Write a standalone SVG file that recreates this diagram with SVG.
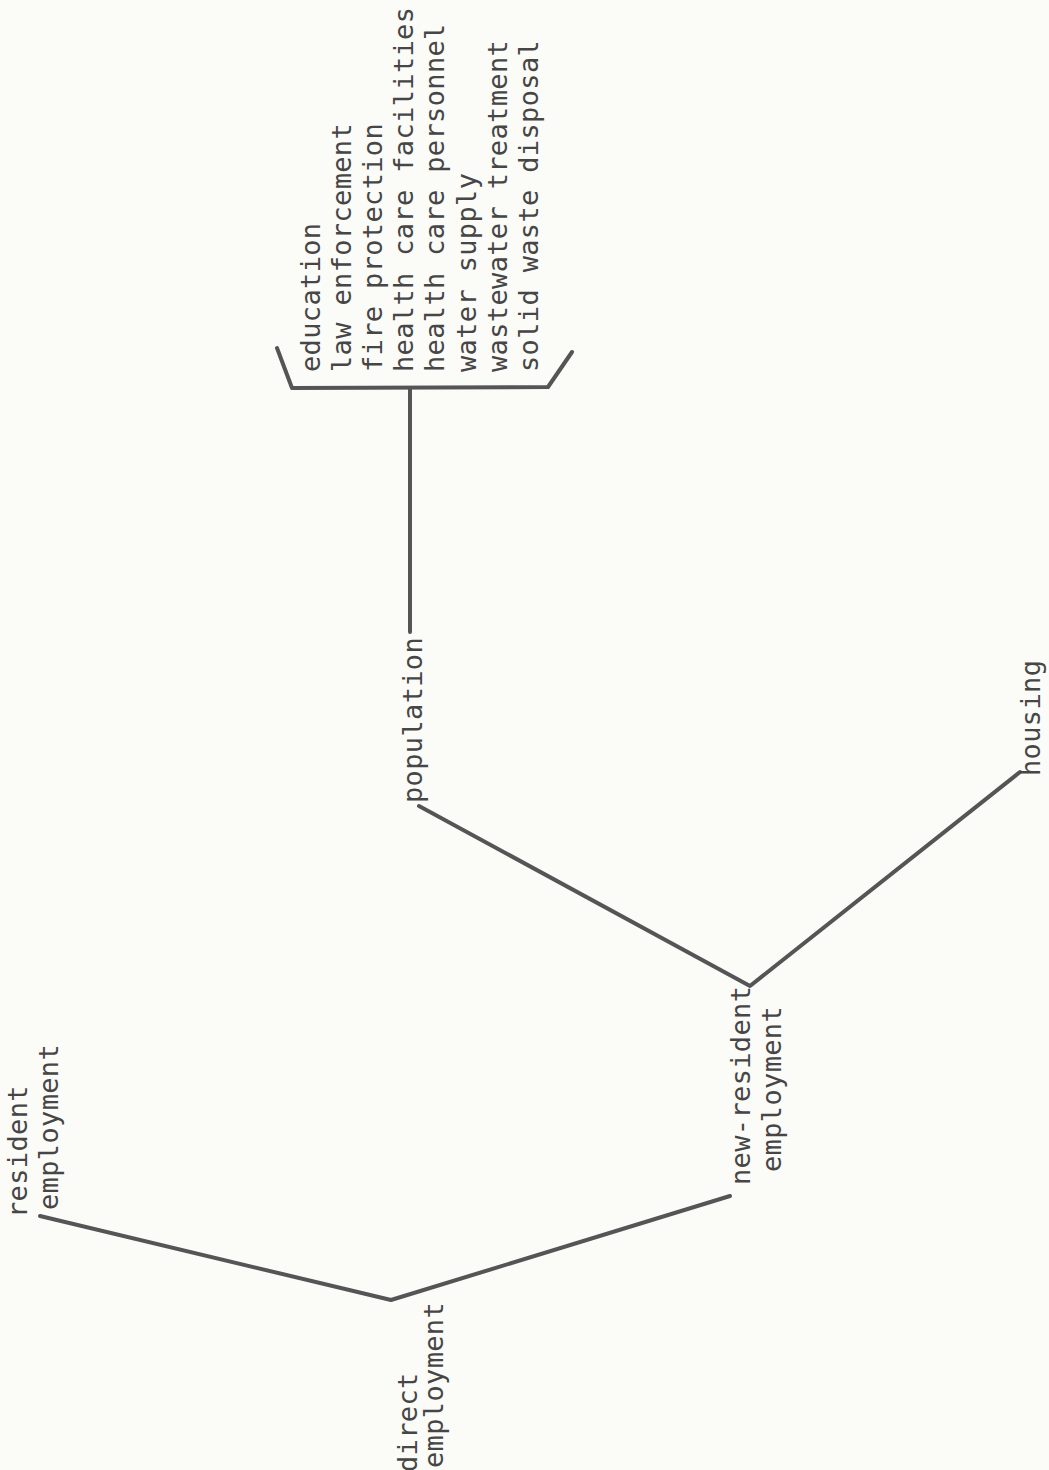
<svg xmlns="http://www.w3.org/2000/svg" width="1049" height="1470" viewBox="0 0 1049 1470">
<style>
.t{font-family:"DejaVu Sans Mono","Liberation Mono",monospace;font-size:27px;fill:#464646;letter-spacing:0.35px}
.c{fill:none;stroke:#555;stroke-width:4;stroke-linecap:round;stroke-linejoin:round}
</style>
<rect width="1049" height="1470" fill="#fbfbf8"/>
<g id="connectors">
<path class="c" d="M40,1216 L391,1300 L730,1196"/>
<path class="c" d="M419,806 L750,986 L1020,772"/>
<path class="c" d="M410,388 L410,632"/>
</g>
<g id="services">
<path class="c" d="M277,348 L292,388 L548,387 L572,352"/>
<text class="t" transform="translate(320,372) rotate(-90)">education</text>
<text class="t" transform="translate(351,372) rotate(-90)">law enforcement</text>
<text class="t" transform="translate(382,372) rotate(-90)">fire protection</text>
<text class="t" transform="translate(413,372) rotate(-90)">health care facilities</text>
<text class="t" transform="translate(444,372) rotate(-90)">health care personnel</text>
<text class="t" transform="translate(476,372) rotate(-90)">water supply</text>
<text class="t" transform="translate(507,372) rotate(-90)">wastewater treatment</text>
<text class="t" transform="translate(538,372) rotate(-90)">solid waste disposal</text>
</g>
<g id="population">
<text class="t" transform="translate(422,803) rotate(-90)">population</text>
</g>
<g id="housing">
<text class="t" transform="translate(1040,776) rotate(-90)">housing</text>
</g>
<g id="new-resident-employment">
<text class="t" transform="translate(750,1185) rotate(-90)">new-resident</text>
<text class="t" transform="translate(781,1172) rotate(-90)">employment</text>
</g>
<g id="resident-employment">
<text class="t" transform="translate(27,1218) rotate(-90)">resident</text>
<text class="t" transform="translate(58,1210) rotate(-90)">employment</text>
</g>
<g id="direct-employment">
<text class="t" transform="translate(417,1472) rotate(-90)">direct</text>
<text class="t" transform="translate(443,1468) rotate(-90)">employment</text>
</g>
</svg>
